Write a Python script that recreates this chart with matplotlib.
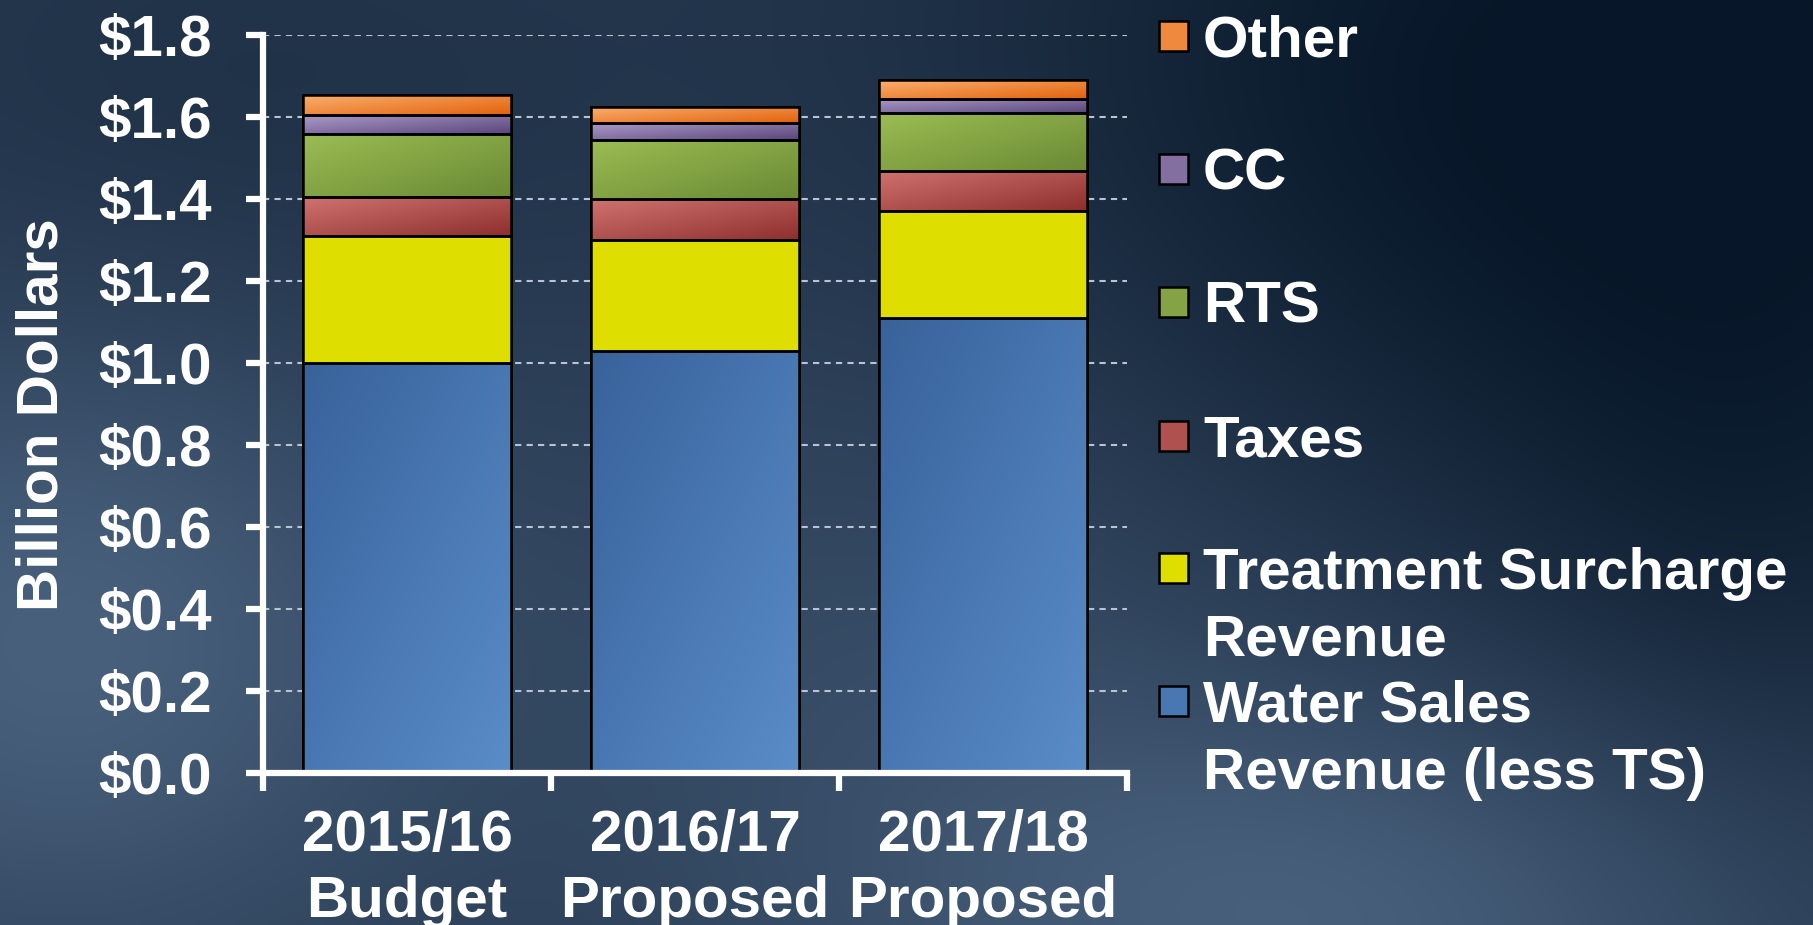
import numpy as np
import matplotlib
matplotlib.use("Agg")
from matplotlib import pyplot as plt
from matplotlib.patches import Rectangle

categories = ["2015/16\nBudget", "2016/17\nProposed", "2017/18\nProposed"]
water_sales = [1.00, 1.03, 1.11]
treatment_surcharge = [0.31, 0.27, 0.26]
taxes = [0.095, 0.10, 0.10]
rts = [0.155, 0.145, 0.14]
cc = [0.045, 0.04, 0.035]
other = [0.05, 0.04, 0.045]
series_labels = ["Water Sales\nRevenue (less TS)", "Treatment Surcharge\nRevenue", "Taxes", "RTS", "CC", "Other"]
y_ticks = [0.0, 0.2, 0.4, 0.6, 0.8, 1.0, 1.2, 1.4, 1.6, 1.8]
y_tick_labels = ["$0.0", "$0.2", "$0.4", "$0.6", "$0.8", "$1.0", "$1.2", "$1.4", "$1.6", "$1.8"]

# (light corner, dark corner, light at top-left?)
styles = [
    ("#5a8cc8", "#38629a", False),
    ("#dede00", "#dede00", True),
    ("#d0736f", "#8e2f2e", True),
    ("#9cbc54", "#6a8a34", True),
    ("#ab9ac8", "#5a467a", True),
    ("#fbb070", "#e2620c", True),
]

W_PX, H_PX = 1813, 925
FONT = "Liberation Sans"
FS = 42
plt.rcParams["font.family"] = [FONT, "DejaVu Sans"]
plt.rcParams["font.weight"] = "bold"

fig = plt.figure(figsize=(W_PX / 100, H_PX / 100), dpi=100)

# slide background
bg_ax = fig.add_axes([0, 0, 1, 1], zorder=-10)
xs = np.linspace(0, W_PX, 363)
ys = np.linspace(0, H_PX, 185)
X, Y = np.meshgrid(xs, ys)


def blob(cx, cy, sx, sy):
    return np.exp(-0.5 * ((X - cx) / sx) ** 2 - 0.5 * ((Y - cy) / sy) ** 2)


b = 0.42 + 0.0 * X
b -= 0.45 * blob(1650, 80, 480, 320)
b += 0.40 * blob(60, 640, 260, 230)
b += 0.38 * blob(1330, 920, 330, 170)
b += 0.15 * blob(900, 620, 260, 260)
b -= 0.12 * blob(200, 120, 320, 200)
b -= 0.15 * blob(1760, 560, 200, 220)
b = np.clip(b, 0, 1)[..., None]
dark = np.array([0.03, 0.09, 0.16])
light = np.array([0.34, 0.44, 0.56])
bg_ax.imshow(dark + (light - dark) * b, aspect="auto", interpolation="bicubic", extent=[0, 1, 0, 1])
bg_ax.set_axis_off()

ax = fig.add_axes([263 / W_PX, 1 - 772.5 / H_PX, 864 / W_PX, (772.5 - 35.4) / H_PX])
ax.set_facecolor("none")

x = np.arange(len(categories))
width = 0.72
bottom = np.zeros(len(categories))
all_series = [water_sales, treatment_surcharge, taxes, rts, cc, other]
u, v = np.meshgrid(np.linspace(0, 1, 50), np.linspace(0, 1, 50))
t = (u + v) / 2
for vals, (c_light, c_dark, light_first) in zip(all_series, styles):
    bars = ax.bar(x, vals, width, bottom=bottom, color=c_dark, edgecolor="black", lw=1.8, zorder=2)
    cl = np.array(matplotlib.colors.to_rgb(c_light))
    cd = np.array(matplotlib.colors.to_rgb(c_dark))
    tt = t if light_first else 1 - t
    grad = cl + (cd - cl) * tt[..., None]
    for p in bars.patches:
        x0, y0 = p.get_x(), p.get_y()
        im = ax.imshow(grad, extent=[x0, x0 + p.get_width(), y0, y0 + p.get_height()],
                       aspect="auto", interpolation="bilinear", zorder=2.5, origin="upper")
        im.set_clip_path(p)
    ax.bar(x, vals, width, bottom=bottom, color="none", edgecolor="black", lw=1.8, zorder=3)
    bottom += np.array(vals)

ax.set_xlim(-0.5, 2.5)
ax.set_ylim(0, 1.8)
ax.set_yticks(y_ticks)
ax.set_yticklabels(y_tick_labels)
ax.set_xticks([-0.5, 0.5, 1.5, 2.5])
ax.set_xticklabels([])
ax.set_xticks(x, minor=True)
ax.set_xticklabels(categories, minor=True)
for lab in ax.get_xticklabels(minor=True):
    lab.set_linespacing(1.3)

ax.tick_params(axis="y", direction="out", length=12, width=4.5, color="white",
               labelcolor="white", labelsize=FS, pad=25)
ax.tick_params(axis="x", which="major", direction="out", length=13, width=4.5, color="white")
ax.tick_params(axis="x", which="minor", length=0, labelcolor="white", labelsize=FS, pad=26)

for side in ["top", "right"]:
    ax.spines[side].set_visible(False)
for side in ["left", "bottom"]:
    ax.spines[side].set_color("white")
    ax.spines[side].set_linewidth(4.5)
    ax.spines[side].set_zorder(4)

ax.set_axisbelow(True)
ax.yaxis.grid(True, color="#b9c4d2", lw=1.5, ls=(0, (3, 2.5)))

fig.text(43 / W_PX, 1 - 415 / H_PX, "Billion Dollars", rotation=90, ha="center", va="center",
         color="white", fontsize=FS, fontweight="bold")

# legend, top entry first
marker_y = [35.7, 169.0, 302.3, 435.6, 568.3, 701.3]
legend_order = list(range(len(series_labels)))[::-1]
for my, idx in zip(marker_y, legend_order):
    c_light, c_dark, light_first = styles[idx]
    mid = (np.array(matplotlib.colors.to_rgb(c_light)) + np.array(matplotlib.colors.to_rgb(c_dark))) / 2
    sq = Rectangle((1159 / W_PX, 1 - (my + 15) / H_PX), 29 / W_PX, 30 / H_PX,
                   transform=fig.transFigure, facecolor=mid, edgecolor="black", lw=1.8)
    fig.add_artist(sq)
    for k, line in enumerate(series_labels[idx].split("\n")):
        fig.text(1203 / W_PX, 1 - (my + 20.5 + 67 * k) / H_PX, line, ha="left", va="baseline",
                 color="white", fontsize=FS, fontweight="bold")

fig.savefig("out.png", dpi=100)
